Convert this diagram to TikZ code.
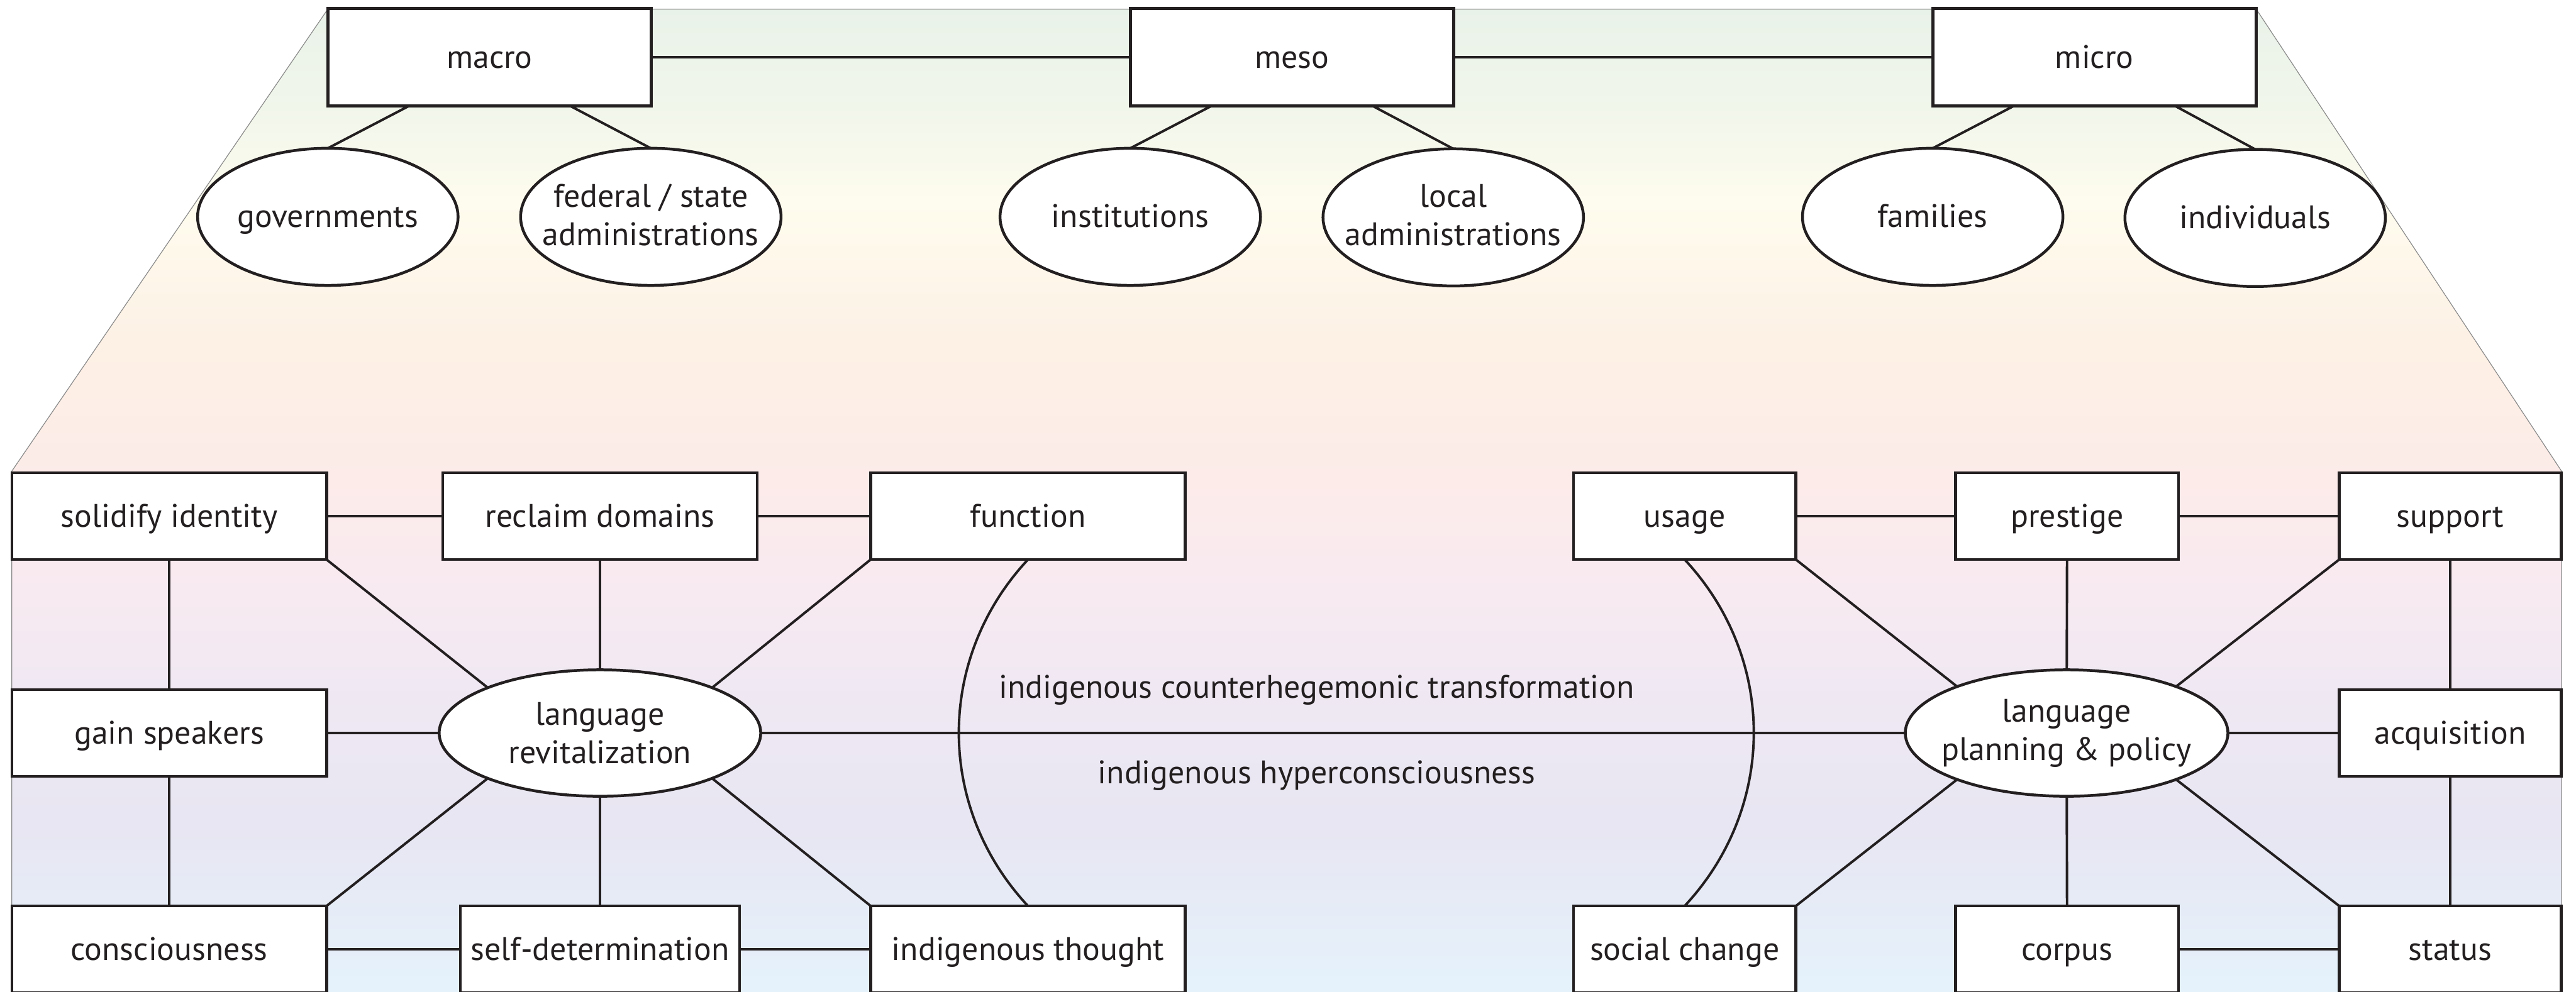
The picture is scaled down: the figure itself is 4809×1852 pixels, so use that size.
\documentclass[tikz,border=0pt]{standalone}
\usepackage{fontspec}
\setmainfont{PT Sans}
\usetikzlibrary{calc,shapes.geometric}

\definecolor{ink}{HTML}{231F20}
\definecolor{edge}{HTML}{8A8A8A}
\definecolor{g0}{HTML}{E9F2E9}
\definecolor{g1}{HTML}{F1F6EB}
\definecolor{g2}{HTML}{FEFCEE}
\definecolor{g3}{HTML}{FDF0E5}
\definecolor{g4}{HTML}{FCEBE9}
\definecolor{g5}{HTML}{F8EAF1}
\definecolor{g6}{HTML}{EFE8F3}
\definecolor{g7}{HTML}{E7E6F2}
\definecolor{g8}{HTML}{E5F3FC}

\begin{document}
\begin{tikzpicture}[x=0.01cm,y=-0.01cm,
  every node/.style={font=\fontsize{17.3}{20.4}\selectfont, text=ink},
  onelinetext/.style={text height=0.44cm, text depth=0.04cm},
  tbox/.style={rectangle, draw=ink, line width=1.5pt, fill=white,
    inner sep=0pt, outer sep=0pt, minimum width=6.03cm, minimum height=1.82cm, onelinetext},
  box/.style={rectangle, draw=ink, line width=1.5pt, fill=white,
    inner sep=0pt, outer sep=0pt, minimum width=#1, minimum height=1.62cm, onelinetext},
  box/.default=5.87cm,
  oval/.style n args={2}{ellipse, draw=ink, line width=1.5pt, fill=white,
    inner sep=0pt, outer sep=0pt, minimum width=#1, minimum height=#2},
  elab/.style={align=center, inner sep=0pt},
  conn/.style={draw=ink, line width=1.3pt},
]
\useasboundingbox (0,0) rectangle (4809,1852);
\clip (0,0) rectangle (4809,1852);
\fill[white] (0,0) rectangle (4809,1852);

% graded backdrop of the trapezoid
\begin{scope}
  \clip (612,17) -- (4212,17) -- (4782,880) -- (4782,1870) -- (22,1870) -- (22,880) -- cycle;
  \shade[top color=g0, bottom color=g1] (0,16) rectangle (4809,201);
  \shade[top color=g1, bottom color=g2] (0,200) rectangle (4809,381);
  \shade[top color=g2, bottom color=g3] (0,380) rectangle (4809,651);
  \shade[top color=g3, bottom color=g4] (0,650) rectangle (4809,901);
  \shade[top color=g4, bottom color=g5] (0,900) rectangle (4809,1101);
  \shade[top color=g5, bottom color=g6] (0,1100) rectangle (4809,1301);
  \shade[top color=g6, bottom color=g7] (0,1300) rectangle (4809,1551);
  \shade[top color=g7, bottom color=g8] (0,1550) rectangle (4809,1870);
\end{scope}
\draw[edge, line width=0.4pt] (22,1870) -- (22,880) -- (612,17) -- (4212,17) -- (4782,880) -- (4782,1870);

% levels
\node[tbox] (macro) at (914,107) {macro};
\node[tbox] (meso)  at (2412,107) {meso};
\node[tbox] (micro) at (3910,107) {micro};

\node[oval={4.86cm}{2.56cm}, label={[elab,onelinetext]center:governments}] (gov) at (612,405) {};
\node[oval={4.86cm}{2.56cm}, label={[elab,yshift=0.04cm]center:federal / state\\administrations}] (fed) at (1215,405) {};
\node[oval={4.86cm}{2.56cm}, label={[elab,onelinetext]center:institutions}] (inst) at (2110,405) {};
\node[oval={4.86cm}{2.56cm}, label={[elab,yshift=0.04cm]center:local\\administrations}] (local) at (2713,406) {};
\node[oval={4.86cm}{2.56cm}, label={[elab,onelinetext]center:families}] (fam) at (3608,405) {};
\node[oval={4.86cm}{2.56cm}, label={[elab,onelinetext]center:individuals}] (indiv) at (4210,407) {};

\draw[conn] (macro) -- (meso);
\draw[conn] (meso) -- (micro);
\draw[conn] ($(macro.south west)!0.25!(macro.south east)$) -- (gov.north);
\draw[conn] ($(macro.south west)!0.75!(macro.south east)$) -- (fed.north);
\draw[conn] ($(meso.south west)!0.25!(meso.south east)$) -- (inst.north);
\draw[conn] ($(meso.south west)!0.75!(meso.south east)$) -- (local.north);
\draw[conn] ($(micro.south west)!0.25!(micro.south east)$) -- (fam.north);
\draw[conn] ($(micro.south west)!0.75!(micro.south east)$) -- (indiv.north);

% revitalization cluster
\node[box] (solid)    at (316,964)  {solidify identity};
\node[box] (reclaim)  at (1120,964) {reclaim domains};
\node[box] (function) at (1919,964) {function};
\node[box] (gain)     at (316,1369) {gain speakers};
\node[box] (consc)    at (316,1773) {consciousness};
\node[box=5.21cm] (selfdet) at (1120,1773) {self-determination};
\node[box] (ithought) at (1919,1773) {indigenous thought};
\node[oval={6.00cm}{2.36cm}, label={[elab]center:language\\revitalization}] (rev) at (1120,1369) {};

% planning cluster
\node[box=4.15cm] (usage)    at (3145,964)  {usage};
\node[box=4.16cm] (prestige) at (3859,964)  {prestige};
\node[box=4.14cm] (support)  at (4574,964)  {support};
\node[box=4.14cm] (acq)      at (4574,1369) {acquisition};
\node[box=4.15cm] (social)   at (3145,1773) {social change};
\node[box=4.16cm] (corpus)   at (3859,1773) {corpus};
\node[box=4.14cm] (status)   at (4574,1773) {status};
\node[oval={6.02cm}{2.36cm}, label={[elab]center:language\\planning \& policy}] (plan) at (3858,1369) {};

% links around revitalization
\draw[conn] (solid) -- (reclaim);
\draw[conn] (reclaim) -- (function);
\draw[conn] (solid) -- (gain);
\draw[conn] (gain) -- (consc);
\draw[conn] (consc) -- (selfdet);
\draw[conn] (selfdet) -- (ithought);
\draw[conn] (solid.south east) -- (rev.158);
\draw[conn] (reclaim) -- (rev);
\draw[conn] (function.south west) -- (rev.22);
\draw[conn] (gain) -- (rev);
\draw[conn] (consc.north east) -- (rev.202);
\draw[conn] (selfdet) -- (rev);
\draw[conn] (ithought.north west) -- (rev.338);

% links around planning
\draw[conn] (usage) -- (prestige);
\draw[conn] (prestige) -- (support);
\draw[conn] (support) -- (acq);
\draw[conn] (acq) -- (status);
\draw[conn] (corpus) -- (status);
\draw[conn] (prestige) -- (plan);
\draw[conn] (corpus) -- (plan);
\draw[conn] (acq) -- (plan);
\draw[conn] (usage.south east) -- (plan.157);
\draw[conn] (support.south west) -- (plan.23);
\draw[conn] (social.north east) -- (plan.203);
\draw[conn] (status.north west) -- (plan.337);

% bridge between the two clusters
\draw[conn] (rev) -- (plan);
\draw[conn] (function.south) to[bend right=43] (ithought.north);
\draw[conn] (usage.south) to[bend left=43] (social.north);

\node[anchor=base] (transf) at (2458,1304) {indigenous counterhegemonic transformation};
\node[anchor=base] (hyper)  at (2458,1463) {indigenous hyperconsciousness};
\end{tikzpicture}
\end{document}
